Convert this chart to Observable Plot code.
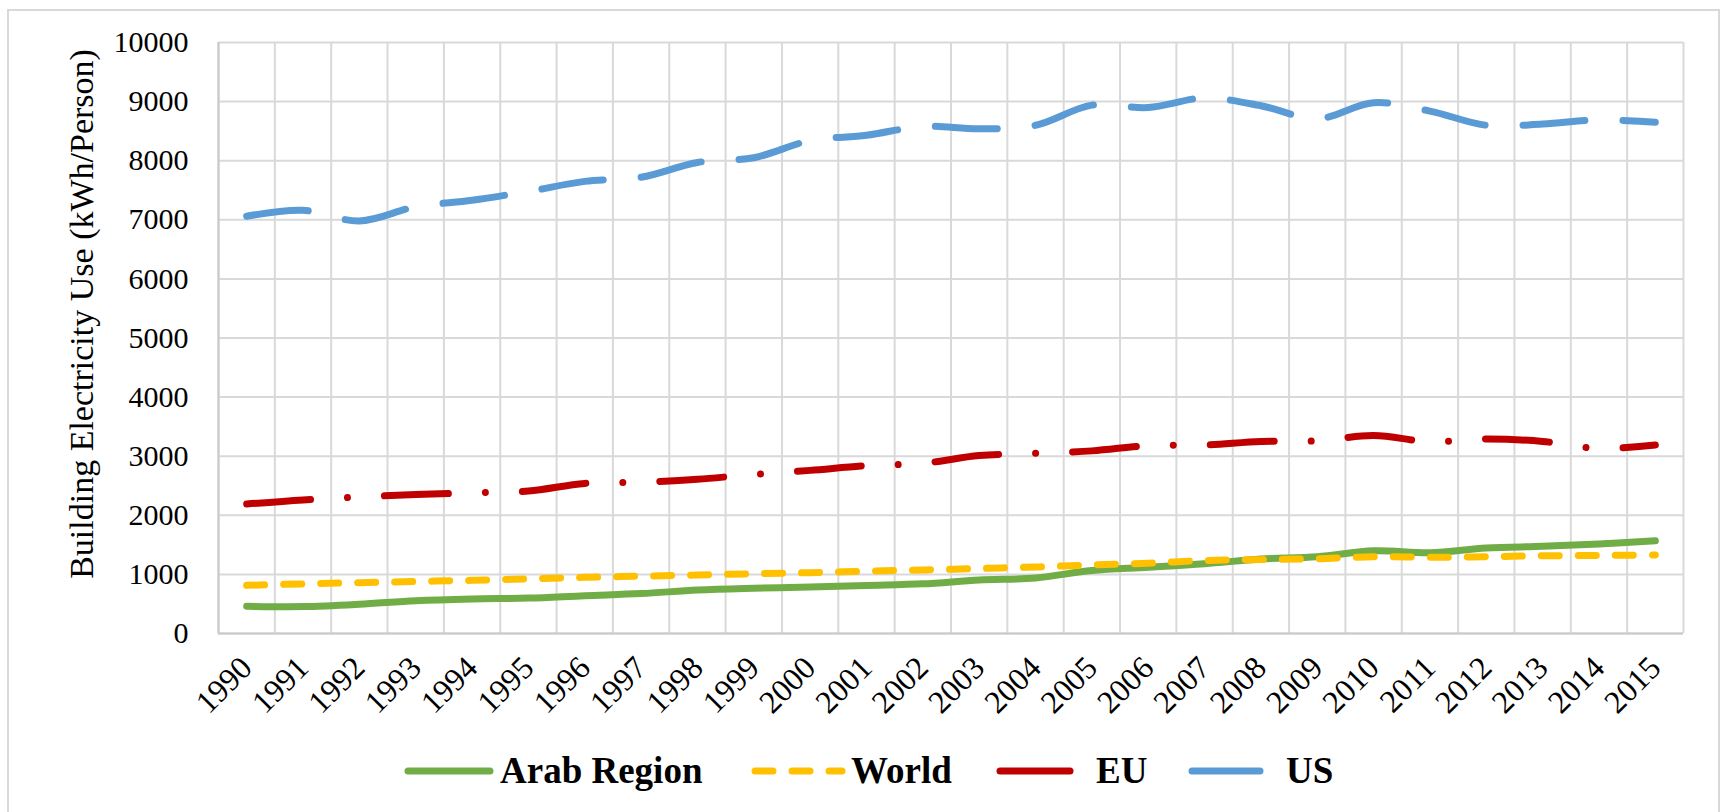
<!DOCTYPE html>
<html>
<head>
<meta charset="utf-8">
<script src="https://cdn.jsdelivr.net/npm/d3@7"></script>
<script src="https://cdn.jsdelivr.net/npm/@observablehq/plot@0.6"></script>
<style>
  html, body { margin: 0; padding: 0; background: #fff; }
  body { width: 1721px; height: 812px; overflow: hidden; position: relative; font-family: "Liberation Serif", "Times New Roman", serif; }
  #frame { position: absolute; left: 7px; top: 9px; width: 1713px; height: 830px; border: 2px solid #d9d9d9; box-sizing: border-box; }
  #chart { position: absolute; left: 0; top: 0; }
  #legend { position: absolute; left: 0; top: 735px; }
</style>
</head>
<body>
<div id="frame"></div>
<div id="chart"></div>
<svg id="legend" width="1721" height="72"></svg>
<script>
// ---- data ----
const years = [1990, 1991, 1992, 1993, 1994, 1995, 1996, 1997, 1998, 1999, 2000, 2001, 2002,
               2003, 2004, 2005, 2006, 2007, 2008, 2009, 2010, 2011, 2012, 2013, 2014, 2015];
const arabRegion = [460, 455, 495, 555, 585, 600, 640, 675, 735, 765, 785, 812, 840,
                    905, 940, 1065, 1120, 1180, 1260, 1300, 1400, 1365, 1445, 1475, 1515, 1570];
const world = [815, 840, 860, 880, 900, 925, 950, 970, 990, 1010, 1030, 1055, 1075,
               1100, 1125, 1160, 1190, 1235, 1250, 1265, 1300, 1290, 1300, 1315, 1320, 1330];
const eu = [2190, 2260, 2310, 2350, 2380, 2410, 2540, 2560, 2610, 2690, 2760, 2840, 2880,
            3010, 3050, 3090, 3180, 3190, 3250, 3260, 3350, 3245, 3290, 3250, 3130, 3190];
const us = [7060, 7160, 6980, 7220, 7330, 7480, 7650, 7720, 7970, 8050, 8340, 8430, 8580,
            8540, 8600, 8940, 8900, 9060, 8930, 8710, 8980, 8840, 8600, 8620, 8690, 8650];
const seriesNames = ["Arab Region", "World", "EU", "US"];
const yTicks = [0, 1000, 2000, 3000, 4000, 5000, 6000, 7000, 8000, 9000, 10000];
const yTitle = "Building Electricity Use (kWh/Person)";

// ---- styles ----
const colors = ["#70ad47", "#ffc000", "#c00000", "#5b9bd5"];
const dashes = [null, "18,19", "64,37,0.01,37", "62,38"];
const valuesBySeries = [arabRegion, world, eu, us];

const rows = [];
seriesNames.forEach((name, s) => {
  years.forEach((yr, i) => rows.push({series: name, year: yr, value: valuesBySeries[s][i]}));
});

const boundaries = years.map(y => y - 0.5).concat([years[years.length - 1] + 0.5]);

const lineMarks = seriesNames.map((name, s) =>
  Plot.line(rows.filter(r => r.series === name), {
    x: "year", y: "value",
    stroke: colors[s], strokeWidth: 7,
    strokeLinecap: "round", strokeLinejoin: "round",
    strokeDasharray: dashes[s] || undefined,
    curve: "catmull-rom"
  })
);

const chart = Plot.plot({
  width: 1721,
  height: 730,
  marginLeft: 218,
  marginRight: 38,
  marginTop: 42,
  marginBottom: 97,
  x: {type: "linear", domain: [boundaries[0], boundaries[boundaries.length - 1]]},
  y: {domain: [0, 10000]},
  style: {fontFamily: "'Liberation Serif', 'Times New Roman', serif", fontSize: "30px", color: "#000", background: "transparent", overflow: "visible"},
  marks: [
    Plot.gridY(yTicks, {stroke: "#d9d9d9", strokeOpacity: 1, strokeWidth: 2}),
    Plot.ruleX(boundaries, {stroke: "#d9d9d9", strokeWidth: 2}),
    Plot.ruleX([boundaries[0]], {stroke: "#c9c9c9", strokeWidth: 2}),
    Plot.ruleY([0], {stroke: "#c9c9c9", strokeWidth: 2}),
    ...lineMarks,
    Plot.axisY(yTicks, {tickSize: 0, tickPadding: 30, label: null, fontSize: 30, tickFormat: d => String(d)}),
    Plot.axisX(years, {tickSize: 0, tickPadding: 29, tickRotate: -45, label: null, fontSize: 32, tickFormat: d => String(d)})
  ]
});

// y-axis title
d3.select(chart).append("text")
  .attr("transform", "translate(93,314) rotate(-90)")
  .attr("text-anchor", "middle")
  .attr("font-size", 34)
  .attr("font-family", "'Liberation Serif', 'Times New Roman', serif")
  .attr("fill", "#000")
  .text(yTitle);

document.getElementById("chart").appendChild(chart);

// ---- legend ----
const legend = d3.select("#legend");
const swatchX = [[408, 490], [755, 842], [1000, 1070], [1192, 1260]];
const textX = [500, 851, 1096, 1286];
const ly = 36;
seriesNames.forEach((name, s) => {
  legend.append("line")
    .attr("x1", swatchX[s][0]).attr("x2", swatchX[s][1])
    .attr("y1", ly).attr("y2", ly)
    .attr("stroke", colors[s]).attr("stroke-width", 7)
    .attr("stroke-linecap", "round")
    .attr("stroke-dasharray", s === 1 ? dashes[s] : null);
  legend.append("text")
    .attr("x", textX[s]).attr("y", ly + 12)
    .attr("font-size", 37).attr("font-weight", "bold")
    .attr("font-family", "'Liberation Serif', 'Times New Roman', serif")
    .attr("fill", "#000")
    .text(name);
});
</script>
</body>
</html>
